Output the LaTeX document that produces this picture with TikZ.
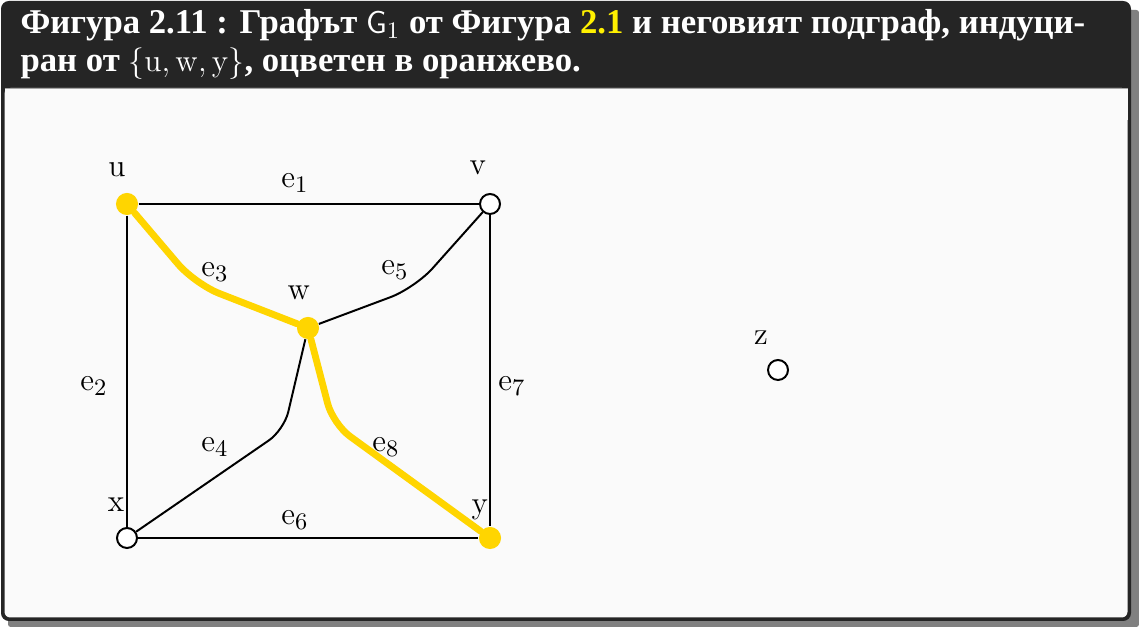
\documentclass[tikz,border=0pt]{standalone}
\usepackage[no-math]{fontspec}
\setmainfont{Liberation Serif}
\definecolor{hdr}{HTML}{252525}
\definecolor{bodybg}{HTML}{FAFAFA}
\definecolor{shadowgray}{HTML}{808080}
\definecolor{vgold}{HTML}{FFD500}
\definecolor{refyellow}{HTML}{FFF000}
\tikzset{
  vtx/.style={circle, draw=black, line width=0.75pt, fill=white, minimum size=7.6pt, inner sep=0pt},
  hvtx/.style={circle, fill=vgold, minimum size=8.4pt, inner sep=0pt},
  edge/.style={black, line width=0.75pt},
  hedge/.style={vgold, line width=2.6pt, line cap=round},
  lbl/.style={font=\fontsize{13}{15}\selectfont, inner sep=0pt},
  ttl/.style={anchor=base west, text=white, inner sep=0pt, font=\bfseries\fontsize{13.2}{15}\selectfont},
}
\begin{document}
\begin{tikzpicture}[x=0.38pt,y=-0.38pt]
\useasboundingbox (0,0) rectangle (1139,627);
% box
\fill[shadowgray, rounded corners=1pt] (8,10) rectangle (1139,627);
\fill[hdr, rounded corners=3pt] (1,1) rectangle (1131,621);
\fill[bodybg, rounded corners=2.2pt] (4.5,88) rectangle (1127.5,617.5);
\fill[bodybg] (4.5,88) rectangle (1127.5,120);
\draw[gray!70, line width=0.4pt] (4.5,88.5) -- (1127.5,88.5);
\node[ttl] (title1) at (20,34)
  {Фигура 2.11 : Графът $\mathsf{G}_1$ от Фигура \textcolor{refyellow}{2.1} и неговият подграф, индуци-};
\node[ttl] (title2) at (20,72)
  {ран от $\{\mathrm{u}, \mathrm{w}, \mathrm{y}\}$, оцветен в оранжево.};
% vertices
\node[hvtx] (u) at (127,204) {};
\node[vtx]  (v) at (490,204) {};
\node[hvtx] (w) at (308,328) {};
\node[vtx]  (x) at (127,538) {};
\node[hvtx] (y) at (490,538) {};
\node[vtx]  (z) at (778,370) {};
% edges
\draw[edge] (u) -- (v);
\draw[edge] (u) -- (x);
\draw[edge] (v) -- (y);
\draw[edge] (x) -- (y);
\draw[edge, rounded corners=10pt] (w) -- (415,288) -- (v);
\draw[edge, rounded corners=7pt] (w) -- (284,430) -- (x);
\draw[hedge, rounded corners=10pt] (u) -- (195,284) -- (w);
\draw[hedge, rounded corners=8pt] (w) -- (333,424) -- (y);
% vertex labels
\node[lbl] (lu) at (117,170) {$\mathrm{u}$};
\node[lbl] (lv) at (478,168) {$\mathrm{v}$};
\node[lbl] (lw) at (299,293) {$\mathrm{w}$};
\node[lbl] (lx) at (116,505) {$\mathrm{x}$};
\node[lbl] (ly) at (480,510) {$\mathrm{y}$};
\node[lbl] (lz) at (761,338) {$\mathrm{z}$};
% edge labels
\node[lbl] (l1) at (295,183) {$\mathrm{e}_1$};
\node[lbl] (l2) at (94,386) {$\mathrm{e}_2$};
\node[lbl] (l3) at (215,272) {$\mathrm{e}_3$};
\node[lbl] (l4) at (215,447) {$\mathrm{e}_4$};
\node[lbl] (l5) at (395,270) {$\mathrm{e}_5$};
\node[lbl] (l6) at (295,520) {$\mathrm{e}_6$};
\node[lbl] (l7) at (512,386) {$\mathrm{e}_7$};
\node[lbl] (l8) at (386,447) {$\mathrm{e}_8$};
\end{tikzpicture}
\end{document}
